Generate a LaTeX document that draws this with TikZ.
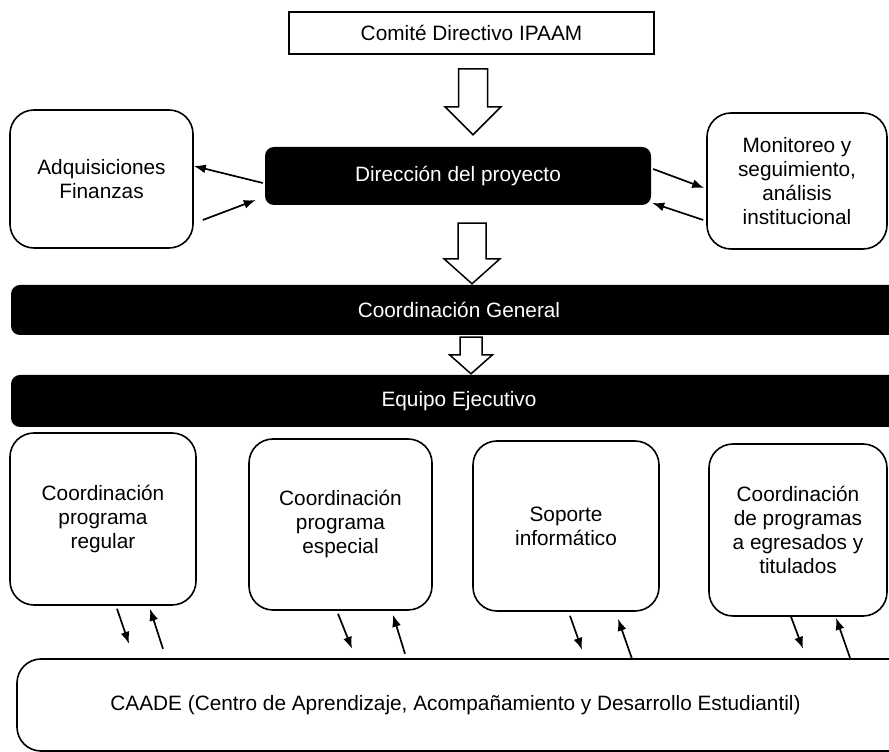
\documentclass[tikz,border=0pt]{standalone}
\usepackage{fontspec}
\setmainfont{Liberation Sans}
\usetikzlibrary{arrows.meta,calc}

% Hollow block arrow: #1 top point, #2 tip point (only its y is used),
% #3 half shaft width, #4 half head width, #5 head length
\newcommand{\fatArrow}[5]{%
  \draw[hollow] let \p1=#1, \p2=#2 in
    (\x1-#3,\y1) -- (\x1+#3,\y1) -- (\x1+#3,\y2+#5) -- (\x1+#4,\y2+#5)
    -- (\x1,\y2) -- (\x1-#4,\y2+#5) -- (\x1-#3,\y2+#5) -- cycle;}

\begin{document}
\begin{tikzpicture}[
    x=1pt, y=1pt,
    every node/.style={font=\fontsize{20.8}{24}\selectfont},
    box/.style={rectangle, draw=black, line width=1.6pt, rounded corners=24pt, align=center},
    bar/.style={rectangle, fill=black, text=white, rounded corners=9pt, inner sep=0pt},
    hollow/.style={draw=black, line width=1.5pt, fill=white, line join=miter},
    link/.style={line width=1.7pt, -{Latex[length=12pt,width=9pt]}}
]

  \useasboundingbox (0,0) rectangle (889,752);

  % Top committee
  \node[draw=black, line width=1.6pt, minimum width=365pt, minimum height=42pt, inner sep=0pt]
    (CD) at (471.5,719) {Comité Directivo IPAAM};

  % Project direction with its two side offices
  \node[bar, minimum width=386pt, minimum height=58pt] (Dir) at (458,576) {Dirección del proyecto};
  \node[box, minimum width=183pt, minimum height=138pt] (Adq) at (101.5,573) {Adquisiciones\\Finanzas};
  \node[box, minimum width=180pt, minimum height=136pt] (Mon) at (797,571)
    {Monitoreo y\\seguimiento,\\análisis\\institucional};

  % Full width bars (they run past the right edge)
  \node[bar, minimum width=896pt, minimum height=50pt] (CG) at (459,442) {Coordinación General};
  \node[bar, minimum width=896pt, minimum height=52pt] (EE) at (459,351) {Equipo Ejecutivo};

  % The four coordinations
  \node[box, minimum width=186pt, minimum height=172pt] (B1) at (103,233) {Coordinación\\programa\\regular};
  \node[box, minimum width=183pt, minimum height=171pt] (B2) at (340.5,227.5) {Coordinación\\programa\\especial};
  \node[box, minimum width=186pt, minimum height=170pt] (B3) at (566,226) {Soporte\\informático};
  \node[box, minimum width=178pt, minimum height=172pt] (B4) at (798,222)
    {Coordinación\\de programas\\a egresados y\\titulados};

  % Student centre (also runs past the right edge)
  \node[box, minimum width=913pt, minimum height=92pt] (CA) at (473.5,47)
    {CAADE (Centro de Aprendizaje, Acompañamiento y Desarrollo Estudiantil)\hspace{36pt}};

  % Block arrows down the chain
  \fatArrow{($(CD.south)+(1.5,-14)$)}{($(Dir.north)+(0,12)$)}{14.5}{28}{28}
  \fatArrow{($(Dir.south)+(14,-18)$)}{($(CG.north)+(0,1)$)}{14}{28}{25}
  \fatArrow{($(CG.south)+(12,-2)$)}{($(EE.north)+(0,1)$)}{11}{21.5}{19}

  % Side links
  \draw[link] ($(Dir.west)+(-2,-7)$) -- ($(Adq.east)+(0,13)$);
  \draw[link] ($(Adq.east)+(9,-41)$) -- ($(Dir.west)+(-9,-24)$);
  \draw[link] ($(Dir.east)+(2,7)$) -- ($(Mon.west)+(-2,-7)$);
  \draw[link] ($(Mon.west)+(-3,-39)$) -- ($(Dir.east)+(1,-27)$);

  % Links between the coordinations and CAADE
  \draw[link] ($(B1.south)+(14,-3)$) -- ($(B1.south)+(26,-38)$);
  \draw[link] ($(B1.south)+(60,-43)$) -- ($(B1.south)+(47,-3)$);
  \draw[link] ($(B2.south)+(-2.5,-3)$) -- ($(B2.south)+(11.5,-38)$);
  \draw[link] ($(B2.south)+(64.5,-43)$) -- ($(B2.south)+(52.5,-4)$);
  \draw[link] ($(B3.south)+(4,-4)$) -- ($(B3.south)+(16,-38)$);
  \draw[link] ($(B3.south)+(66,-47)$) -- ($(B3.south)+(52,-7)$);
  \draw[link] ($(B4.south)+(-7,0)$) -- ($(B4.south)+(5,-32)$);
  \draw[link] ($(B4.south)+(52,-41)$) -- ($(B4.south)+(38,-1)$);

\end{tikzpicture}
\end{document}
